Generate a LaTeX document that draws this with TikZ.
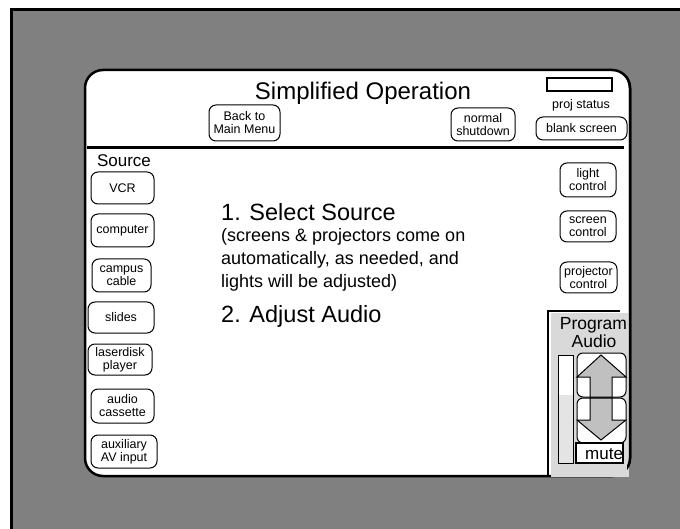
\documentclass[tikz,border=0pt]{standalone}
\usepackage{fontspec}
\setmainfont{Liberation Sans}
\definecolor{framegray}{RGB}{128,128,128}
\definecolor{audiogray}{RGB}{217,217,217}
\definecolor{arrowgray}{RGB}{192,192,192}
\definecolor{slidergray}{RGB}{228,228,228}
\begin{document}
\begin{tikzpicture}[x=1pt,y=-1pt,
  btn/.style={draw=black, line width=1pt, fill=white, rounded corners=7pt,
    inner sep=0pt, align=center, font=\fontsize{12.5}{13}\selectfont},
  panelline/.style={line width=2.5pt},
  arrowshape/.style={fill=arrowgray, draw=black, line width=1pt, line join=miter},
  txt/.style={inner sep=0pt, anchor=base west}]
\useasboundingbox (0,0) rectangle (680,529);
\fill[white] (0,0) rectangle (680,529);

% outer frame
\fill[framegray] (11,10) rectangle (680,529);
\draw[line width=2.8pt] (11.3,529) -- (11.3,9.7) -- (680,9.7);

% main panel
\path[panelline, draw=black, fill=white, rounded corners=18pt] (85,70) rectangle (630,476);
\draw[line width=3pt] (87,148) -- (624,148);

% header
\node[inner sep=0pt, anchor=base, font=\fontsize{24}{24}\selectfont] (title) at (363,100) {Simplified Operation};
\node[draw=black, line width=1.2pt, fill=white, minimum width=65pt, minimum height=13pt, inner sep=0pt] (statusbox) at (579.5,84.5) {};
\node[inner sep=0pt, anchor=base, font=\fontsize{12.5}{13}\selectfont] (statuslbl) at (581,109) {proj status};
\node[btn, minimum width=71pt, minimum height=36pt] (back) at (244.5,123) {Back to\\Main Menu};
\node[btn, minimum width=64pt, minimum height=33pt] (shutdown) at (483,124.5) {normal\\shutdown};
\node[btn, minimum width=91pt, minimum height=23pt] (blank) at (581.5,128.5) {blank screen};

% source buttons
\node[inner sep=0pt, anchor=base, font=\fontsize{17}{17}\selectfont] (source) at (124,167) {Source};
\node[btn, minimum width=63pt, minimum height=32pt] (vcr) at (122.5,188) {VCR};
\node[btn, minimum width=63pt, minimum height=33pt] (computer) at (122.5,230.5) {computer};
\node[btn, minimum width=59pt, minimum height=33pt] (campus) at (121.5,275.5) {campus\\cable};
\node[btn, minimum width=66pt, minimum height=31pt] (slides) at (121,317.5) {slides};
\node[btn, minimum width=64pt, minimum height=31pt] (laserdisk) at (120,359.5) {laserdisk\\player};
\node[btn, minimum width=63pt, minimum height=34pt] (cassette) at (122.5,406) {audio\\cassette};
\node[btn, minimum width=66pt, minimum height=33pt] (aux) at (124,451.5) {auxiliary\\AV input};

% room control buttons
\node[btn, minimum width=56pt, minimum height=34pt] (light) at (588,180) {light\\control};
\node[btn, minimum width=56pt, minimum height=31pt] (screen) at (588,226.5) {screen\\control};
\node[btn, minimum width=57pt, minimum height=31pt] (projector) at (588.5,277.5) {projector\\control};

% instructions
\node[txt, font=\fontsize{23.5}{23.5}\selectfont] (step1) at (221,221) {1. Select Source};
\node[txt, font=\fontsize{18}{18}\selectfont] (note1) at (221,242) {(screens \& projectors come on};
\node[txt, font=\fontsize{18}{18}\selectfont] (note2) at (221,265) {automatically, as needed, and};
\node[txt, font=\fontsize{18}{18}\selectfont] (note3) at (221,288) {lights will be adjusted)};
\node[txt, font=\fontsize{23.5}{23.5}\selectfont] (step2) at (221,323) {2. Adjust Audio};

% program audio panel
\fill[audiogray] (551,313) rectangle (629,477);
\begin{scope}
  \clip (627,0) rectangle (680,529);
  \path[panelline, draw=black, rounded corners=18pt] (85,70) rectangle (630,476);
\end{scope}
\draw[line width=2.5pt] (548,477) -- (548,311) -- (620,311);
\node[inner sep=0pt, anchor=base, font=\fontsize{17.5}{17.5}\selectfont] (proglbl) at (593.5,330) {Program};
\node[inner sep=0pt, anchor=base, font=\fontsize{17.5}{17.5}\selectfont] (audiolbl) at (594,347.5) {Audio};

% volume slider
\fill[white] (558,355) rectangle (573,395);
\fill[slidergray] (558,395) rectangle (573,463);
\draw[line width=0.8pt] (558,355) rectangle (573,463);

% volume buttons
\node[btn, rounded corners=6pt, minimum width=49pt, minimum height=44pt] (volup) at (601.5,375) {};
\node[btn, rounded corners=6pt, minimum width=49pt, minimum height=45pt] (voldown) at (601.5,420.5) {};
\draw[arrowshape] (601,355) -- (626,377) -- (612,377) -- (612,397) -- (590,397) -- (590,377) -- (577,377) -- cycle;
\draw[arrowshape] (590,398) -- (612,398) -- (612,420) -- (626,420) -- (601,440) -- (577,420) -- (590,420) -- cycle;

% mute
\node[draw=black, line width=1.2pt, fill=white, minimum width=47pt, minimum height=20pt, inner sep=0pt] (mutebox) at (599.5,453) {};
\node[txt, font=\fontsize{17}{17}\selectfont] (mute) at (585,459) {mute};
\end{tikzpicture}
\end{document}
